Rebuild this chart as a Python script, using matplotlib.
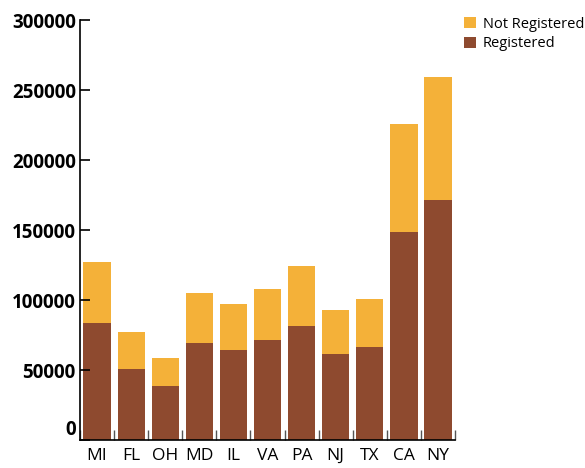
import matplotlib.pyplot as plt
import numpy as np

plt.rcParams['font.family'] = ['Open Sans', 'DejaVu Sans']

# data
states = ['MI', 'FL', 'OH', 'MD', 'IL', 'VA', 'PA', 'NJ', 'TX', 'CA', 'NY']
registered = [83600, 50700, 38600, 69300, 64300, 71400, 81400, 61400, 66400, 148600, 171400]
total = [127100, 77100, 58600, 105000, 97100, 107900, 124300, 92900, 100700, 225700, 259300]
not_registered = [t - r for t, r in zip(total, registered)]

c_reg = '#8e4a2f'
c_not = '#f4b139'

fig = plt.figure(figsize=(5.85, 4.68), dpi=100)
ax = fig.add_axes([80 / 585, 28 / 468, 375 / 585, 420 / 468])

x = np.arange(len(states))
b1 = ax.bar(x, registered, width=0.8, color=c_reg, label='Registered')
b2 = ax.bar(x, not_registered, width=0.8, bottom=registered, color=c_not, label='Not Registered')

ax.set_xlim(-0.5, len(states) - 0.5)
ax.set_ylim(0, 300000)
ax.set_yticks(np.arange(0, 300001, 50000))
ylabels = ax.set_yticklabels([str(v) for v in range(0, 300001, 50000)], fontweight='bold', fontsize=13.5)
ylabels[0].set_verticalalignment('bottom')  # "0" sits a bit above the baseline

ax.set_xticks(x)
ax.set_xticklabels(states, fontsize=12.5)
ax.set_xticks(np.arange(-0.5, len(states)), minor=True)
ax.tick_params(axis='x', which='major', length=0, pad=6)
ax.tick_params(axis='x', which='minor', direction='in', length=7, width=1, color='#555555')
ax.tick_params(axis='y', direction='in', length=7, width=1.2, pad=3)

for s in ['top', 'right']:
    ax.spines[s].set_visible(False)
ax.spines['left'].set_linewidth(1.2)
ax.spines['bottom'].set_linewidth(1.2)

fig.legend(handles=[b2, b1], loc='upper left', bbox_to_anchor=(458 / 585, 1 - 11 / 468),
           frameon=False, fontsize=10.5, handlelength=0.8, handleheight=0.8,
           handletextpad=0.5, labelspacing=0.3, borderaxespad=0)

fig.savefig('out.png', dpi=100)
